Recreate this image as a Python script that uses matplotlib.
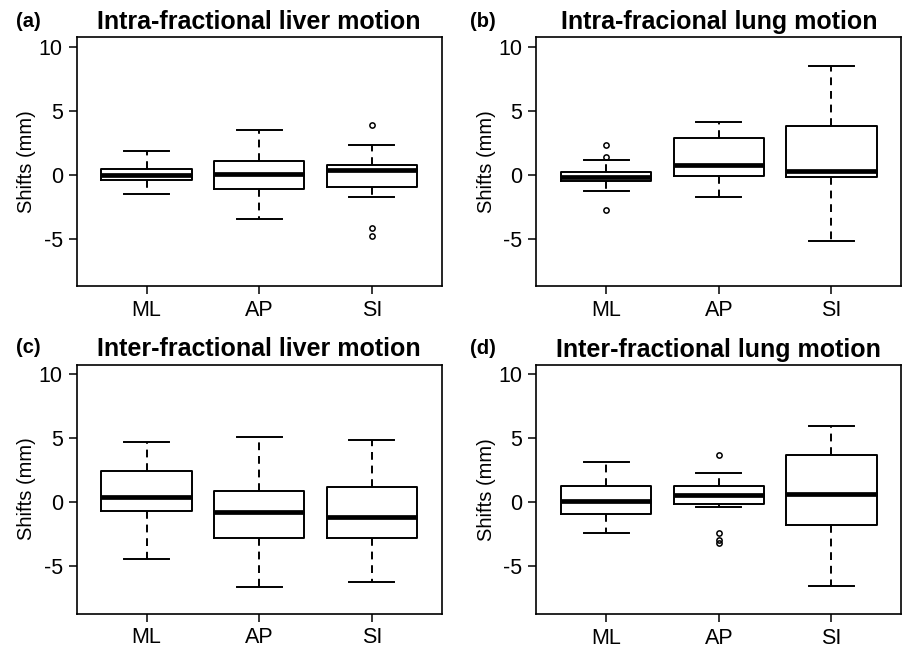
import numpy as np
import matplotlib
matplotlib.use("Agg")
import matplotlib.pyplot as plt

plt.rcParams["font.family"] = ["Liberation Sans", "DejaVu Sans"]

groups = ["ML", "AP", "SI"]
titles = ["Intra-fractional liver motion", "Intra-fracional lung motion",
          "Inter-fractional liver motion", "Inter-fractional lung motion"]
tags = ["(a)", "(b)", "(c)", "(d)"]

# box stats per group: [whisker low, q1, median, q3, whisker high]
intra_liver = [[-1.48, -0.39, -0.05, 0.47, 1.82],
               [-3.44, -1.09, 0.03, 1.07, 3.49],
               [-1.77, -0.99, 0.39, 0.76, 2.29]]
intra_liver_out = [[], [], [3.85, -4.14, -4.82]]

intra_lung = [[-1.30, -0.52, -0.18, 0.18, 1.12],
              [-1.77, -0.10, 0.76, 2.89, 4.09],
              [-5.18, -0.16, 0.29, 3.83, 8.49]]
intra_lung_out = [[2.29, 1.41, -2.76], [], []]

inter_liver = [[-4.43, -0.68, 0.36, 2.40, 4.69],
               [-6.64, -2.81, -0.83, 0.86, 5.08],
               [-6.25, -2.86, -1.22, 1.17, 4.79]]
inter_liver_out = [[], [], []]

inter_lung = [[-2.37, -0.89, 0.08, 1.28, 3.13],
              [-0.36, -0.13, 0.57, 1.28, 2.32],
              [-6.54, -1.74, 0.62, 3.72, 5.94]]
inter_lung_out = [[], [3.70, -2.42, -2.97, -3.20], []]

panels = [(intra_liver, intra_liver_out), (intra_lung, intra_lung_out),
          (inter_liver, inter_liver_out), (inter_lung, inter_lung_out)]

W, H = 904, 648
fig = plt.figure(figsize=(W / 100, H / 100), dpi=100)
rects = [(76.7, 37.3), (536.3, 37.3), (76.7, 364.5), (536.3, 365.0)]
aw, ah = 365.0, 249.0
tag_pos = [(16, 27), (470, 27), (16, 353), (470, 354)]

for i, ((stats, outs), (lx, ty)) in enumerate(zip(panels, rects)):
    ax = fig.add_axes([lx / W, 1 - (ty + ah) / H, aw / W, ah / H])
    bxp_stats = []
    for g, s, o in zip(groups, stats, outs):
        bxp_stats.append({"label": g, "whislo": s[0], "q1": s[1], "med": s[2],
                          "q3": s[3], "whishi": s[4], "fliers": np.array(o)})
    ax.bxp(bxp_stats, positions=[1, 2, 3], widths=0.8, capwidths=0.4,
           boxprops=dict(color="black", linewidth=1.4),
           whiskerprops=dict(color="black", linewidth=1.4, linestyle=(0, (4, 3))),
           capprops=dict(color="black", linewidth=1.4),
           medianprops=dict(color="black", linewidth=3.4, solid_capstyle="butt"),
           flierprops=dict(marker="o", markersize=3.8, markerfacecolor="none",
                           markeredgecolor="black", markeredgewidth=1.1))
    ax.set_xlim(0.38, 3.62)
    ax.set_ylim(-8.72, 10.72)
    ax.set_yticks([-5, 0, 5, 10])
    ax.set_yticklabels(["-5", "0", "5", "10"])
    ax.set_xticks([1, 2, 3])
    ax.set_xticklabels(groups)
    ax.tick_params(direction="out", length=6, width=1.1, labelsize=15.5, pad=4)
    for sp in ax.spines.values():
        sp.set_linewidth(1.2)
    ax.set_ylabel("Shifts (mm)", fontsize=14.5, labelpad=2)
    ax.set_title(titles[i], fontsize=18, fontweight="bold", pad=6)
    fig.text(tag_pos[i][0] / W, 1 - tag_pos[i][1] / H, tags[i], fontsize=14.5,
             fontweight="bold", va="baseline", ha="left")

fig.savefig("out.png", dpi=100)
